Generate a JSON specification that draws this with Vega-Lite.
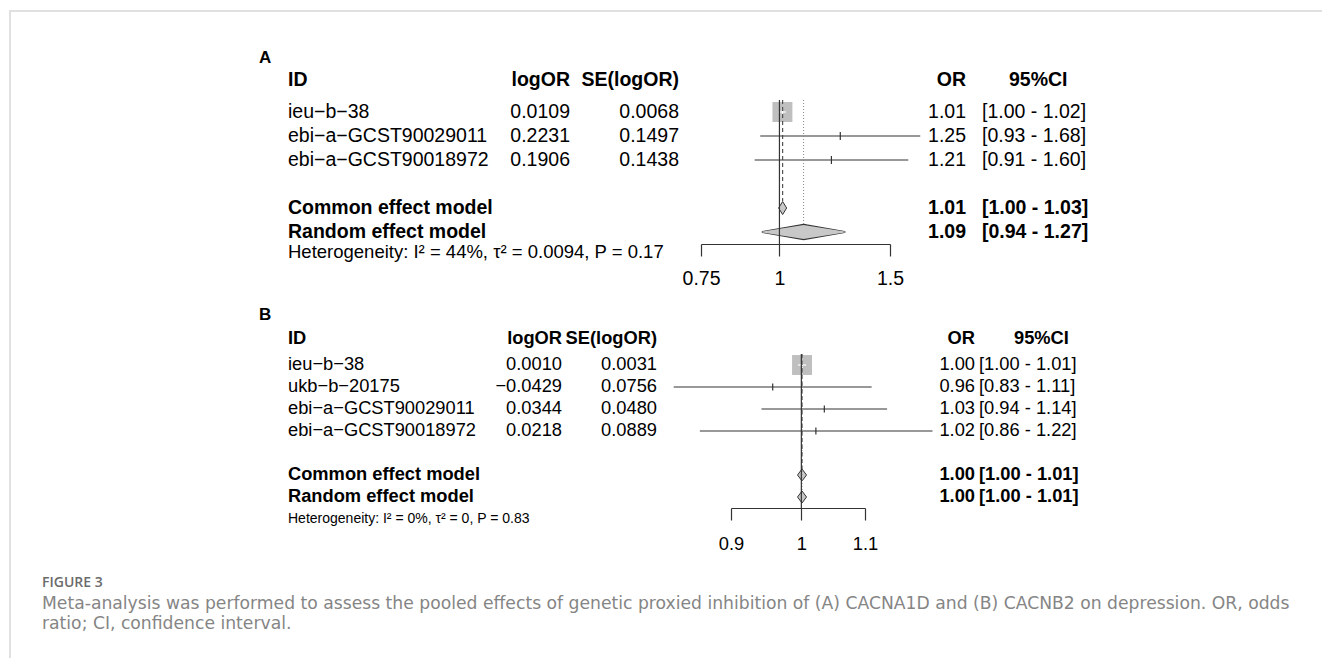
{
  "$schema": "https://vega.github.io/schema/vega-lite/v6.json",
  "padding": {"left": 9, "top": 10, "right": 0, "bottom": 0},
  "background": "white",
  "config": {
    "view": {"stroke": null},
    "text": {"font": "Liberation Sans", "color": "#000000", "baseline": "middle"},
    "axis": {"grid": false, "tickSize": 12, "tickWidth": 1.2, "domainWidth": 1.2, "domainColor": "#333333", "tickColor": "#333333", "labelColor": "#000000", "labelFont": "Liberation Sans", "labelFlush": false, "labelOverlap": false}
  },
  "datasets": {
    "hdr": [{"row": "h", "id": "ID", "logor": "logOR", "se": "SE(logOR)", "or": "OR", "ci": "95%CI"}],
    "A": [
      {"kind": "study", "row": "s1", "id": "ieu−b−38", "logor": 0.0109, "se": 0.0068, "or": 1.011, "lo": 0.9976, "hi": 1.0245, "ci": "[1.00 - 1.02]", "w": 99.57},
      {"kind": "study", "row": "s2", "id": "ebi−a−GCST90029011", "logor": 0.2231, "se": 0.1497, "or": 1.25, "lo": 0.932, "hi": 1.676, "ci": "[0.93 - 1.68]", "w": 0.21},
      {"kind": "study", "row": "s3", "id": "ebi−a−GCST90018972", "logor": 0.1906, "se": 0.1438, "or": 1.21, "lo": 0.913, "hi": 1.604, "ci": "[0.91 - 1.60]", "w": 0.22},
      {"kind": "common", "row": "common", "id": "Common effect model", "or": 1.0118, "lo": 0.9984, "hi": 1.0251, "ci": "[1.00 - 1.03]"},
      {"kind": "random", "row": "random", "id": "Random effect model", "or": 1.0926, "lo": 0.94, "hi": 1.27, "ci": "[0.94 - 1.27]"},
      {"kind": "het", "row": "het", "id": "Heterogeneity: I² = 44%,  τ² = 0.0094, P = 0.17"}
    ],
    "B": [
      {"kind": "study", "row": "s1", "id": "ieu−b−38", "logor": 0.001, "se": 0.0031, "or": 1.001, "lo": 0.995, "hi": 1.0071, "ci": "[1.00 - 1.01]", "w": 99.3},
      {"kind": "study", "row": "s2", "id": "ukb−b−20175", "logor": -0.0429, "se": 0.0756, "or": 0.958, "lo": 0.826, "hi": 1.111, "ci": "[0.83 - 1.11]", "w": 0.17},
      {"kind": "study", "row": "s3", "id": "ebi−a−GCST90029011", "logor": 0.0344, "se": 0.048, "or": 1.035, "lo": 0.942, "hi": 1.137, "ci": "[0.94 - 1.14]", "w": 0.41},
      {"kind": "study", "row": "s4", "id": "ebi−a−GCST90018972", "logor": 0.0218, "se": 0.0889, "or": 1.022, "lo": 0.859, "hi": 1.217, "ci": "[0.86 - 1.22]", "w": 0.12},
      {"kind": "common", "row": "common", "id": "Common effect model", "or": 1.001, "lo": 0.995, "hi": 1.007, "ci": "[1.00 - 1.01]"},
      {"kind": "random", "row": "random", "id": "Random effect model", "or": 1.001, "lo": 0.995, "hi": 1.007, "ci": "[1.00 - 1.01]"},
      {"kind": "het", "row": "het", "id": "Heterogeneity: I² = 0%,  τ² = 0, P = 0.83"}
    ],
    "cap": [
      {"line": "fig", "text": "FIGURE 3"},
      {"line": "l1", "text": "Meta-analysis was performed to assess the pooled effects of genetic proxied inhibition of (A) CACNA1D and (B) CACNB2 on depression. OR, odds"},
      {"line": "l2", "text": "ratio; CI, confidence interval."}
    ]
  },
  "spacing": 0,
  "bounds": "flush",
  "vconcat": [
    {"width": 1313, "height": 0.01, "data": {"values": [{}]}, "mark": {"type": "point", "size": 0, "opacity": 0}, "encoding": {}, "view": {"stroke": "#e0e0e0", "strokeWidth": 2}},
    {
      "spacing": 31,
      "bounds": "flush",
      "hconcat": [
        {"width": 0.01, "height": 648, "data": {"values": [{}]}, "mark": {"type": "point", "size": 0, "opacity": 0}, "encoding": {}, "view": {"stroke": "#e0e0e0", "strokeWidth": 2}},
        {
          "spacing": 0,
          "bounds": "flush",
          "vconcat": [
            {"width": 1, "height": 64, "data": {"values": [{}]}, "mark": {"type": "point", "size": 0, "opacity": 0}, "encoding": {}},
            {
              "spacing": 0,
              "bounds": "flush",
              "resolve": {"scale": {"x": "independent", "y": "independent"}},
              "hconcat": [
                {"width": 246, "height": 192, "data": {"values": [{"row": "h", "label": "A"}]},
                  "mark": {"type": "text", "align": "left", "fontSize": 17, "fontWeight": "bold", "dx": 217, "dy": -30},
                  "encoding": {"x": {"datum": "c", "type": "nominal", "scale": {"type": "point", "padding": 0, "align": 0}, "axis": null},
                    "y": {"field": "row", "type": "nominal", "scale": {"type": "point", "domain": ["h","s1","s2","s3","gap","common","random","het"], "padding": 0.5}, "axis": null},
                    "text": {"field": "label"}}},
                {"width": 170, "height": 192,
                  "encoding": {"x": {"datum": "c", "type": "nominal", "scale": {"type": "point", "padding": 0, "align": 0}, "axis": null},
                    "y": {"field": "row", "type": "nominal", "scale": {"type": "point", "domain": ["h","s1","s2","s3","gap","common","random","het"], "padding": 0.5}, "axis": null},
                    "text": {"field": "id"}},
                  "layer": [
                    {"data": {"name": "hdr"}, "mark": {"type": "text", "align": "left", "fontSize": 19.5, "fontWeight": "bold", "dy": -8}},
                    {"data": {"name": "A"}, "transform": [{"filter": "datum.kind=='study'"}], "mark": {"type": "text", "align": "left", "fontSize": 19.5}},
                    {"data": {"name": "A"}, "transform": [{"filter": "datum.kind=='common'||datum.kind=='random'"}], "mark": {"type": "text", "align": "left", "fontSize": 19.5, "fontWeight": "bold"}},
                    {"data": {"name": "A"}, "transform": [{"filter": "datum.kind=='het'"}], "mark": {"type": "text", "align": "left", "fontSize": 18.5, "dy": -4}}
                  ]},
                {"width": 112, "height": 192,
                  "encoding": {"x": {"datum": "c", "type": "nominal", "scale": {"type": "point", "padding": 0, "align": 1}, "axis": null},
                    "y": {"field": "row", "type": "nominal", "scale": {"type": "point", "domain": ["h","s1","s2","s3","gap","common","random","het"], "padding": 0.5}, "axis": null}},
                  "layer": [
                    {"data": {"name": "hdr"}, "mark": {"type": "text", "align": "right", "fontSize": 19.5, "fontWeight": "bold", "dy": -8}, "encoding": {"text": {"field": "logor"}}},
                    {"data": {"name": "A"}, "transform": [{"filter": "datum.kind=='study'"}], "mark": {"type": "text", "align": "right", "fontSize": 19.5}, "encoding": {"text": {"field": "logor", "type": "quantitative", "format": ".4f"}}}
                  ]},
                {"width": 131, "height": 192,
                  "encoding": {"x": {"datum": "c", "type": "nominal", "scale": {"type": "point", "padding": 0, "align": 1}, "axis": null},
                    "y": {"field": "row", "type": "nominal", "scale": {"type": "point", "domain": ["h","s1","s2","s3","gap","common","random","het"], "padding": 0.5}, "axis": null}},
                  "layer": [
                    {"data": {"name": "hdr"}, "mark": {"type": "text", "align": "right", "fontSize": 19.5, "fontWeight": "bold", "dy": -8, "dx": -22}, "encoding": {"text": {"field": "se"}}},
                    {"data": {"name": "A"}, "transform": [{"filter": "datum.kind=='study'"}], "mark": {"type": "text", "align": "right", "fontSize": 19.5, "dx": -22}, "encoding": {"text": {"field": "se", "type": "quantitative", "format": ".4f"}}}
                  ]},
                {"width": 189, "height": 168, "data": {"name": "A"},
                  "layer": [
                    {"transform": [{"filter": "datum.kind=='study'"}],
                      "mark": {"type": "point", "shape": "square", "filled": true, "color": "#bfbfbf", "opacity": 1, "strokeWidth": 0},
                      "encoding": {"x": {"field": "or", "type": "quantitative", "scale": {"type": "log", "domain": [0.75, 1.5], "nice": false}, "axis": {"values": [0.75, 1, 1.5], "format": "~g", "title": null, "labelFontSize": 19.5, "labelPadding": 13}},
                        "y": {"field": "row", "type": "nominal", "scale": {"type": "point", "domain": ["h","s1","s2","s3","gap","common","random"], "padding": 0.5}, "axis": null},
                        "size": {"field": "w", "type": "quantitative", "scale": {"domain": [0, 100], "range": [0, 400]}, "legend": null}}},
                    {"transform": [{"filter": "datum.kind=='study'"}],
                      "mark": {"type": "rule", "strokeWidth": 1.2},
                      "encoding": {"x": {"field": "lo", "type": "quantitative", "scale": {"type": "log", "domain": [0.75, 1.5], "nice": false}, "axis": {"values": [0.75, 1, 1.5], "format": "~g", "title": null, "labelFontSize": 19.5, "labelPadding": 13}},
                        "x2": {"field": "hi"},
                        "y": {"field": "row", "type": "nominal", "scale": {"type": "point", "domain": ["h","s1","s2","s3","gap","common","random"], "padding": 0.5}, "axis": null},
                        "color": {"condition": {"test": "datum.w>50", "value": "#ffffff"}, "value": "#333333"}}},
                    {"transform": [{"filter": "datum.kind=='study'"}],
                      "mark": {"type": "tick", "orient": "vertical", "size": 8, "thickness": 1.2, "opacity": 1},
                      "encoding": {"x": {"field": "or", "type": "quantitative", "scale": {"type": "log", "domain": [0.75, 1.5], "nice": false}, "axis": {"values": [0.75, 1, 1.5], "format": "~g", "title": null, "labelFontSize": 19.5, "labelPadding": 13}},
                        "y": {"field": "row", "type": "nominal", "scale": {"type": "point", "domain": ["h","s1","s2","s3","gap","common","random"], "padding": 0.5}, "axis": null},
                        "color": {"condition": {"test": "datum.w>50", "value": "#ffffff"}, "value": "#333333"}}},
                    {"transform": [{"filter": "(datum.kind=='common'||datum.kind=='random') && datum.hi/datum.lo >= 1.1"}, {"fold": ["lo", "or", "hi"], "as": ["part", "val"]}],
                      "mark": {"type": "trail", "fill": "#333333"},
                      "encoding": {"x": {"field": "val", "type": "quantitative", "scale": {"type": "log", "domain": [0.75, 1.5], "nice": false}, "axis": {"values": [0.75, 1, 1.5], "format": "~g", "title": null, "labelFontSize": 19.5, "labelPadding": 13}},
                        "y": {"field": "row", "type": "nominal", "scale": {"type": "point", "domain": ["h","s1","s2","s3","gap","common","random"], "padding": 0.5}, "axis": null},
                        "detail": {"field": "row", "type": "nominal"},
                        "order": {"field": "val", "type": "quantitative"},
                        "size": {"condition": {"test": "datum.part=='or'", "value": 16.5}, "value": 1.8}}},
                    {"transform": [{"filter": "(datum.kind=='common'||datum.kind=='random') && datum.hi/datum.lo >= 1.1"}, {"fold": ["lo", "or", "hi"], "as": ["part", "val"]}],
                      "mark": {"type": "trail", "fill": "#c8c8c8"},
                      "encoding": {"x": {"field": "val", "type": "quantitative", "scale": {"type": "log", "domain": [0.75, 1.5], "nice": false}, "axis": {"values": [0.75, 1, 1.5], "format": "~g", "title": null, "labelFontSize": 19.5, "labelPadding": 13}},
                        "y": {"field": "row", "type": "nominal", "scale": {"type": "point", "domain": ["h","s1","s2","s3","gap","common","random"], "padding": 0.5}, "axis": null},
                        "detail": {"field": "row", "type": "nominal"},
                        "order": {"field": "val", "type": "quantitative"},
                        "size": {"condition": {"test": "datum.part=='or'", "value": 14}, "value": 0}}},
                    {"transform": [{"filter": "(datum.kind=='common'||datum.kind=='random') && datum.hi/datum.lo < 1.1"}],
                      "mark": {"type": "point", "shape": "M-0.62,0L0,-1L0.62,0L0,1Z", "size": 169, "filled": true, "fill": "#c8c8c8", "stroke": "#333333", "strokeWidth": 1, "opacity": 1},
                      "encoding": {"x": {"field": "or", "type": "quantitative", "scale": {"type": "log", "domain": [0.75, 1.5], "nice": false}, "axis": {"values": [0.75, 1, 1.5], "format": "~g", "title": null, "labelFontSize": 19.5, "labelPadding": 13}},
                        "y": {"field": "row", "type": "nominal", "scale": {"type": "point", "domain": ["h","s1","s2","s3","gap","common","random"], "padding": 0.5}, "axis": null}}},
                    {"transform": [{"filter": "datum.kind=='common'"}],
                      "mark": {"type": "rule", "color": "#444444", "strokeWidth": 1.1, "strokeDash": [4, 3], "yOffset": -12, "y2Offset": -7},
                      "encoding": {"x": {"field": "or", "type": "quantitative", "scale": {"type": "log", "domain": [0.75, 1.5], "nice": false}, "axis": {"values": [0.75, 1, 1.5], "format": "~g", "title": null, "labelFontSize": 19.5, "labelPadding": 13}},
                        "y": {"datum": "s1", "type": "nominal", "scale": {"type": "point", "domain": ["h","s1","s2","s3","gap","common","random"], "padding": 0.5}, "axis": null},
                        "y2": {"datum": "common"}}},
                    {"transform": [{"filter": "datum.kind=='random'"}],
                      "mark": {"type": "rule", "color": "#888888", "strokeWidth": 1, "strokeDash": [1, 2], "yOffset": -12, "y2Offset": -7},
                      "encoding": {"x": {"field": "or", "type": "quantitative", "scale": {"type": "log", "domain": [0.75, 1.5], "nice": false}, "axis": {"values": [0.75, 1, 1.5], "format": "~g", "title": null, "labelFontSize": 19.5, "labelPadding": 13}},
                        "y": {"datum": "s1", "type": "nominal", "scale": {"type": "point", "domain": ["h","s1","s2","s3","gap","common","random"], "padding": 0.5}, "axis": null},
                        "y2": {"datum": "random"}}},
                    {"transform": [{"filter": "datum.kind=='common'"}],
                      "mark": {"type": "rule", "color": "#333333", "strokeWidth": 1.2, "yOffset": -12, "y2Offset": 12},
                      "encoding": {"x": {"datum": 1, "type": "quantitative", "scale": {"type": "log", "domain": [0.75, 1.5], "nice": false}, "axis": {"values": [0.75, 1, 1.5], "format": "~g", "title": null, "labelFontSize": 19.5, "labelPadding": 13}},
                        "y": {"datum": "s1", "type": "nominal", "scale": {"type": "point", "domain": ["h","s1","s2","s3","gap","common","random"], "padding": 0.5}, "axis": null},
                        "y2": {"datum": "random"}}}
                  ]},
                {"width": 76, "height": 192,
                  "encoding": {"x": {"datum": "c", "type": "nominal", "scale": {"type": "point", "padding": 0, "align": 1}, "axis": null},
                    "y": {"field": "row", "type": "nominal", "scale": {"type": "point", "domain": ["h","s1","s2","s3","gap","common","random","het"], "padding": 0.5}, "axis": null}},
                  "layer": [
                    {"data": {"name": "hdr"}, "mark": {"type": "text", "align": "right", "fontSize": 19.5, "fontWeight": "bold", "dy": -8}, "encoding": {"text": {"field": "or"}}},
                    {"data": {"name": "A"}, "transform": [{"filter": "datum.kind=='study'"}], "mark": {"type": "text", "align": "right", "fontSize": 19.5}, "encoding": {"text": {"field": "or", "type": "quantitative", "format": ".2f"}}},
                    {"data": {"name": "A"}, "transform": [{"filter": "datum.kind=='common'||datum.kind=='random'"}], "mark": {"type": "text", "align": "right", "fontSize": 19.5, "fontWeight": "bold"}, "encoding": {"text": {"field": "or", "type": "quantitative", "format": ".2f"}}}
                  ]},
                {"width": 150, "height": 192,
                  "encoding": {"x": {"datum": "c", "type": "nominal", "scale": {"type": "point", "padding": 0, "align": 0}, "axis": null},
                    "y": {"field": "row", "type": "nominal", "scale": {"type": "point", "domain": ["h","s1","s2","s3","gap","common","random","het"], "padding": 0.5}, "axis": null},
                    "text": {"field": "ci"}},
                  "layer": [
                    {"data": {"name": "hdr"}, "mark": {"type": "text", "align": "left", "fontSize": 19.5, "fontWeight": "bold", "dy": -8, "dx": 43}},
                    {"data": {"name": "A"}, "transform": [{"filter": "datum.kind=='study'"}], "mark": {"type": "text", "align": "left", "fontSize": 19.5, "dx": 16}},
                    {"data": {"name": "A"}, "transform": [{"filter": "datum.kind=='common'||datum.kind=='random'"}], "mark": {"type": "text", "align": "left", "fontSize": 19.5, "fontWeight": "bold", "dx": 16}}
                  ]}
              ]
            },
            {"width": 1, "height": 256, "data": {"values": [{}]}, "mark": {"type": "point", "size": 0, "opacity": 0}, "encoding": {}},
            {
              "spacing": 0,
              "bounds": "flush",
              "resolve": {"scale": {"x": "independent", "y": "independent"}},
              "hconcat": [
                {"width": 246, "height": 198, "data": {"values": [{"row": "h", "label": "B"}]},
                  "mark": {"type": "text", "align": "left", "fontSize": 17, "fontWeight": "bold", "dx": 217, "dy": -28},
                  "encoding": {"x": {"datum": "c", "type": "nominal", "scale": {"type": "point", "padding": 0, "align": 0}, "axis": null},
                    "y": {"field": "row", "type": "nominal", "scale": {"type": "point", "domain": ["h","s1","s2","s3","s4","gap","common","random","het"], "padding": 0.5}, "axis": null},
                    "text": {"field": "label"}}},
                {"width": 170, "height": 198,
                  "encoding": {"x": {"datum": "c", "type": "nominal", "scale": {"type": "point", "padding": 0, "align": 0}, "axis": null},
                    "y": {"field": "row", "type": "nominal", "scale": {"type": "point", "domain": ["h","s1","s2","s3","s4","gap","common","random","het"], "padding": 0.5}, "axis": null},
                    "text": {"field": "id"}},
                  "layer": [
                    {"data": {"name": "hdr"}, "mark": {"type": "text", "align": "left", "fontSize": 18.3, "fontWeight": "bold", "dy": -4}},
                    {"data": {"name": "B"}, "transform": [{"filter": "datum.kind=='study'"}], "mark": {"type": "text", "align": "left", "fontSize": 18.3}},
                    {"data": {"name": "B"}, "transform": [{"filter": "datum.kind=='common'||datum.kind=='random'"}], "mark": {"type": "text", "align": "left", "fontSize": 18.3, "fontWeight": "bold"}},
                    {"data": {"name": "B"}, "transform": [{"filter": "datum.kind=='het'"}], "mark": {"type": "text", "align": "left", "fontSize": 14}}
                  ]},
                {"width": 104, "height": 198,
                  "encoding": {"x": {"datum": "c", "type": "nominal", "scale": {"type": "point", "padding": 0, "align": 1}, "axis": null},
                    "y": {"field": "row", "type": "nominal", "scale": {"type": "point", "domain": ["h","s1","s2","s3","s4","gap","common","random","het"], "padding": 0.5}, "axis": null}},
                  "layer": [
                    {"data": {"name": "hdr"}, "mark": {"type": "text", "align": "right", "fontSize": 18.3, "fontWeight": "bold", "dy": -4}, "encoding": {"text": {"field": "logor"}}},
                    {"data": {"name": "B"}, "transform": [{"filter": "datum.kind=='study'"}], "mark": {"type": "text", "align": "right", "fontSize": 18.3}, "encoding": {"text": {"field": "logor", "type": "quantitative", "format": ".4f"}}}
                  ]},
                {"width": 169, "height": 198,
                  "encoding": {"x": {"datum": "c", "type": "nominal", "scale": {"type": "point", "padding": 0, "align": 1}, "axis": null},
                    "y": {"field": "row", "type": "nominal", "scale": {"type": "point", "domain": ["h","s1","s2","s3","s4","gap","common","random","het"], "padding": 0.5}, "axis": null}},
                  "layer": [
                    {"data": {"name": "hdr"}, "mark": {"type": "text", "align": "right", "fontSize": 18.3, "fontWeight": "bold", "dy": -4, "dx": -74}, "encoding": {"text": {"field": "se"}}},
                    {"data": {"name": "B"}, "transform": [{"filter": "datum.kind=='study'"}], "mark": {"type": "text", "align": "right", "fontSize": 18.3, "dx": -74}, "encoding": {"text": {"field": "se", "type": "quantitative", "format": ".4f"}}}
                  ]},
                {"width": 134, "height": 176, "data": {"name": "B"},
                  "layer": [
                    {"transform": [{"filter": "datum.kind=='study'"}],
                      "mark": {"type": "point", "shape": "square", "filled": true, "color": "#bfbfbf", "opacity": 1, "strokeWidth": 0},
                      "encoding": {"x": {"field": "or", "type": "quantitative", "scale": {"type": "log", "domain": [0.9, 1.1], "nice": false}, "axis": {"values": [0.9, 1, 1.1], "format": "~g", "title": null, "labelFontSize": 18.3, "labelPadding": 15}},
                        "y": {"field": "row", "type": "nominal", "scale": {"type": "point", "domain": ["h","s1","s2","s3","s4","gap","common","random"], "padding": 0.5}, "axis": null},
                        "size": {"field": "w", "type": "quantitative", "scale": {"domain": [0, 100], "range": [0, 364]}, "legend": null}}},
                    {"transform": [{"filter": "datum.kind=='study'"}],
                      "mark": {"type": "rule", "strokeWidth": 1.2},
                      "encoding": {"x": {"field": "lo", "type": "quantitative", "scale": {"type": "log", "domain": [0.9, 1.1], "nice": false}, "axis": {"values": [0.9, 1, 1.1], "format": "~g", "title": null, "labelFontSize": 18.3, "labelPadding": 15}},
                        "x2": {"field": "hi"},
                        "y": {"field": "row", "type": "nominal", "scale": {"type": "point", "domain": ["h","s1","s2","s3","s4","gap","common","random"], "padding": 0.5}, "axis": null},
                        "color": {"condition": {"test": "datum.w>50", "value": "#ffffff"}, "value": "#333333"}}},
                    {"transform": [{"filter": "datum.kind=='study'"}],
                      "mark": {"type": "tick", "orient": "vertical", "size": 7, "thickness": 1.2, "opacity": 1},
                      "encoding": {"x": {"field": "or", "type": "quantitative", "scale": {"type": "log", "domain": [0.9, 1.1], "nice": false}, "axis": {"values": [0.9, 1, 1.1], "format": "~g", "title": null, "labelFontSize": 18.3, "labelPadding": 15}},
                        "y": {"field": "row", "type": "nominal", "scale": {"type": "point", "domain": ["h","s1","s2","s3","s4","gap","common","random"], "padding": 0.5}, "axis": null},
                        "color": {"condition": {"test": "datum.w>50", "value": "#ffffff"}, "value": "#333333"}}},
                    {"transform": [{"filter": "(datum.kind=='common'||datum.kind=='random') && datum.hi/datum.lo < 1.1"}],
                      "mark": {"type": "point", "shape": "M-0.75,0L0,-1L0.75,0L0,1Z", "size": 144, "filled": true, "fill": "#c8c8c8", "stroke": "#333333", "strokeWidth": 1, "opacity": 1},
                      "encoding": {"x": {"field": "or", "type": "quantitative", "scale": {"type": "log", "domain": [0.9, 1.1], "nice": false}, "axis": {"values": [0.9, 1, 1.1], "format": "~g", "title": null, "labelFontSize": 18.3, "labelPadding": 15}},
                        "y": {"field": "row", "type": "nominal", "scale": {"type": "point", "domain": ["h","s1","s2","s3","s4","gap","common","random"], "padding": 0.5}, "axis": null}}},
                    {"transform": [{"filter": "datum.kind=='common'"}],
                      "mark": {"type": "rule", "color": "#444444", "strokeWidth": 1.1, "strokeDash": [4, 3], "yOffset": -11, "y2Offset": -6},
                      "encoding": {"x": {"field": "or", "type": "quantitative", "scale": {"type": "log", "domain": [0.9, 1.1], "nice": false}, "axis": {"values": [0.9, 1, 1.1], "format": "~g", "title": null, "labelFontSize": 18.3, "labelPadding": 15}},
                        "y": {"datum": "s1", "type": "nominal", "scale": {"type": "point", "domain": ["h","s1","s2","s3","s4","gap","common","random"], "padding": 0.5}, "axis": null},
                        "y2": {"datum": "common"}}},
                    {"transform": [{"filter": "datum.kind=='random'"}],
                      "mark": {"type": "rule", "color": "#888888", "strokeWidth": 1, "strokeDash": [1, 2], "yOffset": -11, "y2Offset": -6},
                      "encoding": {"x": {"field": "or", "type": "quantitative", "scale": {"type": "log", "domain": [0.9, 1.1], "nice": false}, "axis": {"values": [0.9, 1, 1.1], "format": "~g", "title": null, "labelFontSize": 18.3, "labelPadding": 15}},
                        "y": {"datum": "s1", "type": "nominal", "scale": {"type": "point", "domain": ["h","s1","s2","s3","s4","gap","common","random"], "padding": 0.5}, "axis": null},
                        "y2": {"datum": "random"}}},
                    {"transform": [{"filter": "datum.kind=='common'"}],
                      "mark": {"type": "rule", "color": "#333333", "strokeWidth": 1.2, "yOffset": -11, "y2Offset": 11},
                      "encoding": {"x": {"datum": 1, "type": "quantitative", "scale": {"type": "log", "domain": [0.9, 1.1], "nice": false}, "axis": {"values": [0.9, 1, 1.1], "format": "~g", "title": null, "labelFontSize": 18.3, "labelPadding": 15}},
                        "y": {"datum": "s1", "type": "nominal", "scale": {"type": "point", "domain": ["h","s1","s2","s3","s4","gap","common","random"], "padding": 0.5}, "axis": null},
                        "y2": {"datum": "random"}}}
                  ]},
                {"width": 110, "height": 198,
                  "encoding": {"x": {"datum": "c", "type": "nominal", "scale": {"type": "point", "padding": 0, "align": 1}, "axis": null},
                    "y": {"field": "row", "type": "nominal", "scale": {"type": "point", "domain": ["h","s1","s2","s3","s4","gap","common","random","het"], "padding": 0.5}, "axis": null}},
                  "layer": [
                    {"data": {"name": "hdr"}, "mark": {"type": "text", "align": "right", "fontSize": 18.3, "fontWeight": "bold", "dy": -4}, "encoding": {"text": {"field": "or"}}},
                    {"data": {"name": "B"}, "transform": [{"filter": "datum.kind=='study'"}], "mark": {"type": "text", "align": "right", "fontSize": 18.3}, "encoding": {"text": {"field": "or", "type": "quantitative", "format": ".2f"}}},
                    {"data": {"name": "B"}, "transform": [{"filter": "datum.kind=='common'||datum.kind=='random'"}], "mark": {"type": "text", "align": "right", "fontSize": 18.3, "fontWeight": "bold"}, "encoding": {"text": {"field": "or", "type": "quantitative", "format": ".2f"}}}
                  ]},
                {"width": 127, "height": 198,
                  "encoding": {"x": {"datum": "c", "type": "nominal", "scale": {"type": "point", "padding": 0, "align": 0}, "axis": null},
                    "y": {"field": "row", "type": "nominal", "scale": {"type": "point", "domain": ["h","s1","s2","s3","s4","gap","common","random","het"], "padding": 0.5}, "axis": null},
                    "text": {"field": "ci"}},
                  "layer": [
                    {"data": {"name": "hdr"}, "mark": {"type": "text", "align": "left", "fontSize": 18.3, "fontWeight": "bold", "dy": -4, "dx": 39}},
                    {"data": {"name": "B"}, "transform": [{"filter": "datum.kind=='study'"}], "mark": {"type": "text", "align": "left", "fontSize": 18.3, "dx": 4}},
                    {"data": {"name": "B"}, "transform": [{"filter": "datum.kind=='common'||datum.kind=='random'"}], "mark": {"type": "text", "align": "left", "fontSize": 18.3, "fontWeight": "bold", "dx": 4}}
                  ]}
              ]
            },
            {"width": 1, "height": 262, "data": {"values": [{}]}, "mark": {"type": "point", "size": 0, "opacity": 0}, "encoding": {}},
            {"width": 1250, "height": 41, "data": {"name": "cap"},
              "encoding": {"x": {"datum": "c", "type": "nominal", "scale": {"type": "point", "padding": 0, "align": 0}, "axis": null},
                "y": {"field": "line", "type": "nominal", "scale": {"type": "point", "domain": ["fig", "l1", "l2"], "padding": 0}, "axis": null},
                "text": {"field": "text"}},
              "layer": [
                {"transform": [{"filter": "datum.line=='fig'"}], "mark": {"type": "text", "align": "left", "font": "Open Sans", "fontSize": 14, "fontWeight": 600, "color": "#6b6b6b", "dy": -11}},
                {"transform": [{"filter": "datum.line!='fig'"}], "mark": {"type": "text", "align": "left", "font": "DejaVu Sans", "fontSize": 17.2, "color": "#858585", "dy": -11}}
              ]}
          ]
        }
      ]
    }
  ]
}
